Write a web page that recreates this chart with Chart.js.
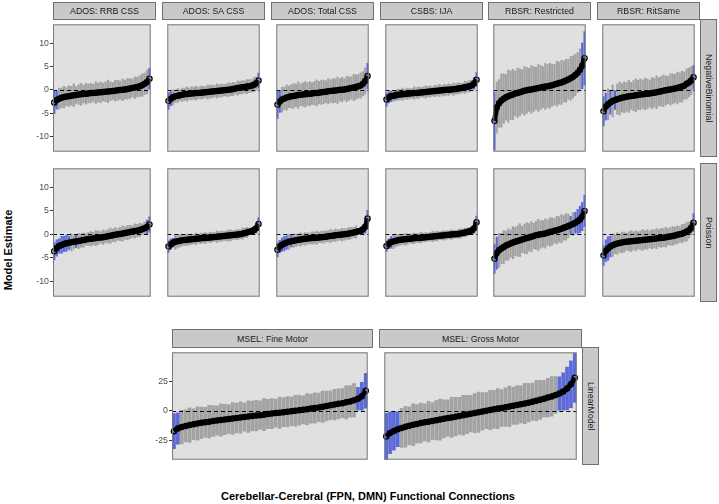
<!DOCTYPE html>
<html>
<head>
<meta charset="utf-8">
<script src="https://cdn.jsdelivr.net/npm/chart.js@4.4.1/dist/chart.umd.min.js"></script>
<style>
  body { margin: 0; background: #fff; font-family: "Liberation Sans", Arial, sans-serif; }
  #wrap { position: relative; width: 719px; height: 504px; overflow: hidden; }
  #wrap canvas { position: absolute; }
  .strip { position: absolute; background: #c9c9c9; border: 1px solid #707070; box-sizing: border-box;
           color: #1a1a1a; font-size: 8.8px; display: flex; align-items: center; justify-content: center; white-space: nowrap; }
  .vstrip { writing-mode: vertical-rl; }
  .axtitle { position: absolute; font-weight: bold; font-size: 11px; color: #000; white-space: nowrap; }
</style>
</head>
<body>
<div id="wrap"></div>
<script>
// facet labels
const outcomeLabels = ["ADOS: RRB CSS", "ADOS: SA CSS", "ADOS: Total CSS", "CSBS: IJA", "RBSR: Restricted", "RBSR: RitSame"];
const linearLabels = ["MSEL: Fine Motor", "MSEL: Gross Motor"];
const modelLabels = ["NegativeBinomial", "Poisson", "LinearModel"];
const countTicks = [-10, -5, 0, 5, 10];
const linearTicks = [-25, 0, 25];

// NegativeBinomial: sorted estimates (est) and CI half widths (hw)
const nbRrbEst = [-2.7,-2.2,-1.9,-1.7,-1.55,-1.45,-1.35,-1.25,-1.15,-1.1,-1.0,-0.95,-0.9,-0.85,-0.8,-0.7,-0.65,-0.6,-0.55,-0.5,-0.45,-0.4,-0.35,-0.3,-0.25,-0.2,-0.1,-0.05,0.0,0.1,0.2,0.3,0.4,0.5,0.6,0.8,1.0,1.3,1.7,2.4];
const nbRrbHw = [2.5,2.0,2.3,2.2,2.4,2.0,2.3,2.1,2.5,1.9,2.2,2.4,2.0,2.3,2.1,2.2,1.9,2.4,2.1,2.3,2.0,2.2,2.5,2.1,1.9,2.3,2.2,2.0,2.4,2.1,2.3,2.2,2.0,2.4,2.2,2.3,2.5,2.4,2.6,2.3];
const nbSaEst = [-2.4,-1.9,-1.6,-1.4,-1.25,-1.15,-1.05,-0.95,-0.9,-0.85,-0.8,-0.75,-0.7,-0.65,-0.6,-0.55,-0.5,-0.45,-0.4,-0.35,-0.3,-0.25,-0.2,-0.15,-0.1,-0.05,0.05,0.1,0.2,0.3,0.4,0.45,0.55,0.6,0.7,0.8,0.9,1.1,1.4,2.0];
const nbSaHw = [1.9,1.6,1.7,1.4,1.6,1.3,1.5,1.4,1.6,1.3,1.5,1.4,1.6,1.3,1.5,1.4,1.3,1.6,1.4,1.5,1.3,1.6,1.4,1.5,1.3,1.4,1.6,1.4,1.5,1.3,1.6,1.4,1.5,1.4,1.6,1.5,1.4,1.6,1.5,1.7];
const nbTotEst = [-3.2,-2.5,-2.1,-1.85,-1.65,-1.5,-1.4,-1.3,-1.2,-1.1,-1.05,-1.0,-0.95,-0.9,-0.85,-0.8,-0.7,-0.65,-0.6,-0.5,-0.45,-0.4,-0.3,-0.25,-0.2,-0.15,-0.1,0.0,0.05,0.1,0.2,0.3,0.4,0.5,0.6,0.75,0.95,1.3,1.9,3.0];
const nbTotHw = [3.0,2.4,2.7,2.5,2.8,2.4,2.6,2.7,2.5,2.9,2.4,2.6,2.8,2.5,2.7,2.4,2.6,2.9,2.5,2.7,2.6,2.4,2.8,2.5,2.7,2.6,2.9,2.5,2.7,2.4,2.8,2.6,2.5,2.9,2.7,2.6,2.8,2.7,2.9,2.8];
const nbIjaEst = [-2.1,-1.6,-1.4,-1.25,-1.15,-1.05,-1.0,-0.95,-0.9,-0.85,-0.8,-0.75,-0.7,-0.65,-0.6,-0.55,-0.5,-0.45,-0.4,-0.35,-0.3,-0.25,-0.2,-0.15,-0.1,-0.05,0.0,0.05,0.1,0.15,0.2,0.3,0.35,0.45,0.55,0.65,0.8,1.0,1.4,2.2];
const nbIjaHw = [1.5,1.3,1.2,1.3,1.1,1.3,1.2,1.4,1.1,1.3,1.2,1.1,1.4,1.2,1.3,1.1,1.2,1.4,1.2,1.3,1.1,1.3,1.2,1.4,1.1,1.3,1.2,1.3,1.1,1.4,1.2,1.3,1.2,1.1,1.4,1.2,1.3,1.2,1.3,1.6];
const nbResEst = [-6.7,-3.8,-2.9,-2.3,-1.9,-1.6,-1.35,-1.15,-1.0,-0.8,-0.65,-0.5,-0.35,-0.2,-0.1,0.0,0.1,0.2,0.3,0.4,0.5,0.6,0.7,0.8,0.9,1.0,1.15,1.3,1.45,1.6,1.8,2.0,2.25,2.5,2.8,3.2,3.7,4.3,5.2,6.8];
const nbResHw = [6.3,5.6,5.2,5.8,5.4,5.0,5.7,5.3,5.5,4.9,5.4,5.1,4.8,5.3,5.0,4.7,5.2,4.9,4.6,5.1,4.8,4.5,5.0,4.7,4.9,4.6,4.4,4.9,4.6,4.8,4.5,4.7,4.4,4.8,4.6,4.5,4.4,4.6,5.0,5.8];
const nbRitEst = [-4.6,-3.6,-3.1,-2.7,-2.4,-2.2,-2.0,-1.85,-1.7,-1.6,-1.5,-1.4,-1.3,-1.25,-1.15,-1.1,-1.0,-0.95,-0.9,-0.85,-0.8,-0.7,-0.6,-0.5,-0.4,-0.3,-0.2,-0.1,0.0,0.1,0.2,0.3,0.4,0.55,0.7,0.9,1.3,1.6,2.0,2.7];
const nbRitHw = [3.2,3.0,3.4,2.6,3.5,2.1,3.3,3.6,3.1,3.4,3.2,3.5,3.0,3.3,3.6,3.2,3.4,3.1,3.5,3.3,3.0,3.4,3.2,3.6,3.1,3.3,3.5,3.2,3.0,3.4,3.3,3.1,3.5,3.2,3.4,3.0,3.3,3.2,3.1,2.6];

// Poisson
const psRrbEst = [-3.6,-2.9,-2.5,-2.25,-2.05,-1.9,-1.8,-1.7,-1.6,-1.5,-1.4,-1.3,-1.2,-1.1,-1.0,-0.95,-0.9,-0.8,-0.7,-0.65,-0.6,-0.5,-0.4,-0.3,-0.2,-0.1,0.0,0.1,0.2,0.3,0.4,0.5,0.6,0.7,0.8,0.95,1.1,1.3,1.6,2.1];
const psRrbHw = [1.9,1.8,1.6,1.9,1.7,1.8,1.5,1.9,1.6,1.4,1.7,1.5,1.6,1.3,1.5,1.6,1.4,1.7,1.5,1.3,1.6,1.4,1.5,1.7,1.4,1.6,1.3,1.5,1.7,1.4,1.6,1.5,1.3,1.6,1.4,1.5,1.2,1.4,1.5,1.7];
const psSaEst = [-2.6,-2.1,-1.8,-1.6,-1.45,-1.35,-1.25,-1.2,-1.15,-1.1,-1.05,-1.0,-0.95,-0.9,-0.85,-0.8,-0.75,-0.7,-0.65,-0.6,-0.55,-0.5,-0.45,-0.4,-0.35,-0.3,-0.25,-0.2,-0.15,-0.1,-0.05,0.05,0.15,0.3,0.4,0.55,0.7,0.95,1.3,2.2];
const psSaHw = [1.3,1.2,1.0,1.7,1.5,1.4,1.3,1.3,1.3,1.2,1.2,1.1,1.3,1.0,1.2,1.1,1.3,1.0,1.2,1.1,1.0,1.3,1.1,1.2,1.0,1.1,1.3,1.2,1.0,1.1,1.2,1.0,1.3,1.1,1.2,0.5,0.65,0.85,1.1,1.4];
const psTotEst = [-3.3,-2.6,-2.2,-1.95,-1.75,-1.6,-1.45,-1.35,-1.25,-1.15,-1.1,-1.0,-0.95,-0.9,-0.85,-0.8,-0.75,-0.7,-0.65,-0.6,-0.55,-0.5,-0.4,-0.35,-0.3,-0.2,-0.15,-0.1,-0.05,0.0,0.1,0.2,0.3,0.4,0.5,0.65,0.8,1.1,1.6,3.4];
const psTotHw = [1.6,1.4,1.5,1.6,1.5,1.7,1.3,1.5,1.4,1.3,1.5,1.2,1.4,1.3,1.2,1.4,1.3,1.5,1.2,1.3,1.4,1.2,1.3,1.5,1.2,1.4,1.3,1.2,1.4,1.3,1.2,1.4,1.3,1.2,1.4,0.6,0.75,1.0,1.4,1.8];
const psIjaEst = [-2.5,-2.0,-1.7,-1.5,-1.35,-1.25,-1.15,-1.1,-1.05,-1.0,-0.95,-0.9,-0.85,-0.8,-0.75,-0.7,-0.65,-0.6,-0.55,-0.5,-0.45,-0.4,-0.35,-0.3,-0.25,-0.2,-0.15,-0.1,-0.05,0.0,0.05,0.1,0.2,0.3,0.4,0.5,0.7,0.9,1.3,2.6];
const psIjaHw = [1.2,1.1,1.3,1.6,1.4,1.3,1.2,1.1,1.3,1.2,1.0,1.1,1.2,1.0,1.1,1.2,1.0,1.1,0.9,1.0,1.2,1.0,1.1,0.9,1.0,1.1,1.0,0.9,1.1,1.0,0.9,1.0,1.1,0.9,1.0,0.9,0.65,0.85,1.1,1.4];
const psResEst = [-5.2,-4.0,-3.4,-3.0,-2.7,-2.4,-2.15,-1.95,-1.75,-1.55,-1.4,-1.25,-1.1,-0.95,-0.8,-0.65,-0.5,-0.35,-0.2,-0.1,0.0,0.1,0.2,0.35,0.5,0.6,0.75,0.9,1.05,1.2,1.4,1.6,1.8,2.0,2.2,2.5,2.8,3.2,3.8,5.0];
const psResHw = [3.2,3.5,3.7,3.3,3.6,3.2,3.4,3.0,3.5,3.1,3.3,3.6,2.9,3.2,3.4,3.0,3.3,2.8,3.1,3.4,3.0,2.9,3.2,2.8,3.1,3.0,2.7,3.0,2.8,3.1,2.7,2.9,2.6,1.9,2.5,2.3,2.6,2.9,3.1,3.4];
const psRitEst = [-4.5,-3.5,-3.0,-2.6,-2.3,-2.1,-1.95,-1.85,-1.75,-1.65,-1.55,-1.5,-1.45,-1.4,-1.35,-1.3,-1.25,-1.2,-1.15,-1.1,-1.05,-1.0,-0.95,-0.9,-0.8,-0.75,-0.7,-0.6,-0.5,-0.45,-0.35,-0.25,-0.1,0.0,0.15,0.35,0.6,0.9,1.4,2.5];
const psRitHw = [2.2,2.4,2.6,2.3,2.5,2.1,2.4,2.0,2.3,2.2,1.9,2.1,2.3,2.0,2.2,1.9,2.1,2.3,2.0,2.2,1.9,2.1,2.0,2.2,1.9,2.1,2.0,2.2,1.8,2.0,2.1,1.9,2.0,1.8,2.0,1.9,2.1,1.8,1.6,2.0];

// LinearModel
const lmFineEst = [-17.0,-14.8,-13.5,-12.6,-11.9,-11.2,-10.6,-10.0,-9.5,-9.0,-8.5,-8.0,-7.6,-7.2,-6.8,-6.3,-5.9,-5.5,-5.1,-4.7,-4.3,-3.9,-3.5,-3.1,-2.6,-2.2,-1.8,-1.4,-1.0,-0.6,-0.2,0.2,0.6,1.0,1.5,2.0,2.5,3.0,3.6,4.2,4.8,5.4,6.0,6.6,7.3,8.1,9.0,10.3,12.5,17.0];
const lmFineHw = [15.0,13.5,14.6,13.8,14.9,13.2,14.4,13.6,12.9,14.1,13.3,12.7,13.9,13.1,12.5,13.7,12.8,13.4,12.3,13.6,12.9,13.2,12.4,13.8,12.7,13.0,12.2,13.5,12.6,13.1,12.4,13.3,12.8,12.1,13.4,12.6,13.0,12.3,13.5,12.8,12.4,13.2,12.9,12.5,14.2,13.7,14.3,10.0,12.0,15.0];
const lmGrossEst = [-21.6,-18.5,-16.8,-15.4,-14.3,-13.3,-12.4,-11.6,-10.9,-10.2,-9.6,-9.0,-8.4,-7.8,-7.2,-6.6,-6.0,-5.4,-4.8,-4.2,-3.6,-3.0,-2.4,-1.8,-1.1,-0.4,0.2,0.8,1.4,2.0,2.6,3.2,3.8,4.4,5.0,5.6,6.3,7.0,7.8,8.6,9.4,10.3,11.3,12.3,13.4,14.8,16.5,19.0,22.5,28.0];
const lmGrossHw = [20.0,17.8,16.5,15.0,16.8,17.5,16.2,17.9,16.6,17.1,16.0,17.4,15.8,16.9,17.6,16.3,15.7,17.2,16.5,15.9,17.0,16.4,15.6,16.8,17.3,16.1,15.5,16.9,16.4,17.1,15.8,16.6,17.4,16.0,16.7,15.9,17.2,16.5,16.0,17.3,16.8,15.9,16.6,17.0,15.8,14.3,16.0,18.3,20.0,21.0];

const GRAY = "#a3a3a3";
const BLUE = "#5b6ad8";
const wrap = document.getElementById("wrap");

// panel background, zero line (drawn above the error bars) and border
const panelPlugin = {
  id: "panel",
  beforeDraw(chart) {
    const a = chart.chartArea, ctx = chart.ctx;
    ctx.save();
    ctx.fillStyle = "#e0e0e0";
    ctx.fillRect(a.left, a.top, a.right - a.left, a.bottom - a.top);
    ctx.restore();
  },
  afterDatasetDraw(chart, args) {
    if (args.meta.type !== "bar") return;
    const a = chart.chartArea, ctx = chart.ctx;
    const y = Math.round(chart.scales.y.getPixelForValue(0)) + 0.5;
    ctx.save();
    ctx.strokeStyle = "#000";
    ctx.lineWidth = 1;
    ctx.setLineDash([4, 3]);
    ctx.beginPath();
    ctx.moveTo(a.left, y);
    ctx.lineTo(a.right, y);
    ctx.stroke();
    ctx.restore();
  },
  afterDraw(chart) {
    const a = chart.chartArea, ctx = chart.ctx;
    ctx.save();
    ctx.strokeStyle = "#7a7a7a";
    ctx.lineWidth = 1;
    ctx.strokeRect(a.left + 0.5, a.top + 0.5, a.right - a.left - 1, a.bottom - a.top - 1);
    ctx.restore();
  }
};

function drawPanel(est, hw, box, yMin, yMax, ticks, showAxis) {
  const axisW = showAxis ? 30 : 0;
  const bars = est.map((e, i) => [e - hw[i], e + hw[i]]);
  const colors = bars.map(b => (b[1] < 0 || b[0] > 0) ? BLUE : GRAY);
  const labels = est.map((e, i) => i + 1);

  const cv = document.createElement("canvas");
  cv.width = box.w + axisW;
  cv.height = box.h;
  cv.style.left = (box.x - axisW) + "px";
  cv.style.top = box.y + "px";
  wrap.appendChild(cv);

  new Chart(cv, {
    type: "bar",
    data: {
      labels: labels,
      datasets: [
        {
          type: "line", data: est, order: 1,
          borderColor: "#000", borderWidth: 5, tension: 0.2, fill: false,
          pointRadius: 2.6, pointBorderWidth: 1.3,
          pointBorderColor: "#000", pointBackgroundColor: "rgba(0,0,0,0)"
        },
        {
          type: "bar", data: bars, order: 2,
          backgroundColor: colors, borderWidth: 0,
          barPercentage: 0.95, categoryPercentage: 1
        }
      ]
    },
    options: {
      responsive: false,
      animation: false,
      layout: { padding: 0 },
      plugins: { legend: { display: false }, tooltip: { enabled: false } },
      scales: {
        x: { display: false, offset: true },
        y: {
          display: showAxis,
          min: yMin, max: yMax,
          afterBuildTicks: s => { s.ticks = ticks.map(v => ({ value: v })); },
          afterFit: s => { s.width = axisW; s.paddingTop = 0; s.paddingBottom = 0; },
          grid: { drawOnChartArea: false, tickLength: 3, color: "#333" },
          border: { display: false },
          ticks: { color: "#4d4d4d", padding: 1, font: { size: 8.8, family: "'Liberation Sans', Arial, sans-serif" } }
        }
      }
    },
    plugins: [panelPlugin]
  });
}

function addStrip(text, x, y, w, h, vertical) {
  const d = document.createElement("div");
  d.className = "strip" + (vertical ? " vstrip" : "");
  d.style.left = x + "px"; d.style.top = y + "px";
  d.style.width = w + "px"; d.style.height = h + "px";
  d.textContent = text;
  wrap.appendChild(d);
}

// grid layout
const colLeft = [53, 162, 271, 380, 488, 597];
const colW = 103;
const rowTop = [19, 163];
const rowH = [138, 139];
const countRange = [-13.3, 14.1];
const linearRange = [-41.1, 49.5];

const nbData = [[nbRrbEst, nbRrbHw], [nbSaEst, nbSaHw], [nbTotEst, nbTotHw], [nbIjaEst, nbIjaHw], [nbResEst, nbResHw], [nbRitEst, nbRitHw]];
const psData = [[psRrbEst, psRrbHw], [psSaEst, psSaHw], [psTotEst, psTotHw], [psIjaEst, psIjaHw], [psResEst, psResHw], [psRitEst, psRitHw]];

[nbData, psData].forEach((row, r) => {
  row.forEach((d, c) => {
    drawPanel(d[0], d[1], { x: colLeft[c], y: rowTop[r], w: colW, h: rowH[r] },
      countRange[0], countRange[1], countTicks, c === 0);
  });
  addStrip(modelLabels[r], 700, rowTop[r], 17, rowH[r], true);
});
outcomeLabels.forEach((t, c) => addStrip(t, colLeft[c], 2, colW, 18, false));

// linear model row
const lmBoxes = [{ x: 172, y: 347, w: 201, h: 118 }, { x: 379, y: 347, w: 203, h: 118 }];
drawPanel(lmFineEst, lmFineHw, lmBoxes[0], linearRange[0], linearRange[1], linearTicks, true);
drawPanel(lmGrossEst, lmGrossHw, lmBoxes[1], linearRange[0], linearRange[1], linearTicks, false);
linearLabels.forEach((t, i) => addStrip(t, lmBoxes[i].x, 329, lmBoxes[i].w, 19, false));
addStrip(modelLabels[2], 582, 347, 17, 118, true);

// axis titles
const xt = document.createElement("div");
xt.className = "axtitle";
xt.textContent = "Cerebellar-Cerebral (FPN, DMN) Functional Connections";
xt.style.left = "368px"; xt.style.top = "496px";
xt.style.transform = "translate(-50%, -50%)";
wrap.appendChild(xt);

const yt = document.createElement("div");
yt.className = "axtitle";
yt.textContent = "Model Estimate";
yt.style.left = "8px"; yt.style.top = "250px";
yt.style.transform = "translate(-50%, -50%) rotate(-90deg)";
wrap.appendChild(yt);
</script>
</body>
</html>
